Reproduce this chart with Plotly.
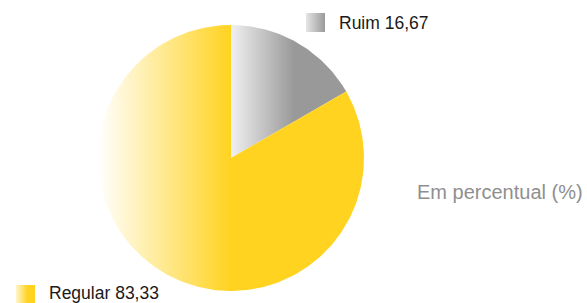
import numpy as np
import plotly.graph_objects as go

# ---- data ----
categories = ["Ruim", "Regular"]
values = [16.67, 83.33]
note = "Em percentual (%)"

# ---- style ----
W, H = 587, 303
cx, cy, R = 231, 158, 133
slice_scales = {
    "Ruim": [[0, "#F0F0F0"], [0.55, "#999999"], [1, "#999999"]],
    "Regular": [[0, "#FFFFFF"], [0.5, "#FFD320"], [1, "#FFD320"]],
}
legend_scales = {
    "Ruim": [[0, "#E6E6E6"], [1, "#999999"]],
    "Regular": [[0, "#FFF6CF"], [0.6, "#FFD320"], [1, "#FFD320"]],
}
label_pos = {"Ruim": (306, 13), "Regular": (16, 285)}
text_dy = {"Ruim": 0, "Regular": -2}
SQ = 19

fig = go.Figure()
total = sum(values)
a0 = 0.0
for cat, v in zip(categories, values):
    a1 = a0 + v / total * 2 * np.pi
    th = np.linspace(a0, a1, max(int((a1 - a0) / (2 * np.pi) * 360), 2) + 1)
    xs = np.concatenate([[cx], cx + R * np.sin(th), [cx]])
    ys = np.concatenate([[cy], cy - R * np.cos(th), [cy]])
    fig.add_trace(go.Scatter(
        x=xs, y=ys, mode="lines", line=dict(width=0), fill="toself",
        fillgradient=dict(type="horizontal", colorscale=slice_scales[cat]),
        hoverinfo="text", text=f"{cat} {v:.2f}".replace(".", ","), showlegend=False))
    a0 = a1

for cat, v in zip(categories, values):
    lx, ly = label_pos[cat]
    fig.add_trace(go.Scatter(
        x=[lx, lx + SQ, lx + SQ, lx, lx], y=[ly, ly, ly + SQ, ly + SQ, ly],
        mode="lines", line=dict(width=0), fill="toself",
        fillgradient=dict(type="horizontal", colorscale=legend_scales[cat]),
        hoverinfo="skip", showlegend=False))
    fig.add_annotation(x=lx + SQ + 12, y=ly + SQ / 2 + text_dy[cat], xref="x", yref="y",
                       text=f"{cat} {v:.2f}".replace(".", ","), showarrow=False,
                       xanchor="left", yanchor="middle",
                       font=dict(family="Liberation Sans, Arial", size=17.5, color="#1a1a1a"))

fig.add_annotation(x=585, y=192, xref="x", yref="y", text=note, showarrow=False,
                   xanchor="right", yanchor="middle",
                   font=dict(family="Liberation Sans, Arial", size=20, color="#8f8f8f"))

fig.update_xaxes(range=[0, W], visible=False, fixedrange=True)
fig.update_yaxes(range=[H, 0], visible=False, fixedrange=True)
fig.update_layout(width=W, height=H, margin=dict(l=0, r=0, t=0, b=0),
                  paper_bgcolor="white", plot_bgcolor="white")
fig.write_html("out.html", config={"displayModeBar": False},
               post_script="document.body.style.margin='0';"
                           "document.documentElement.style.overflow='hidden';")
